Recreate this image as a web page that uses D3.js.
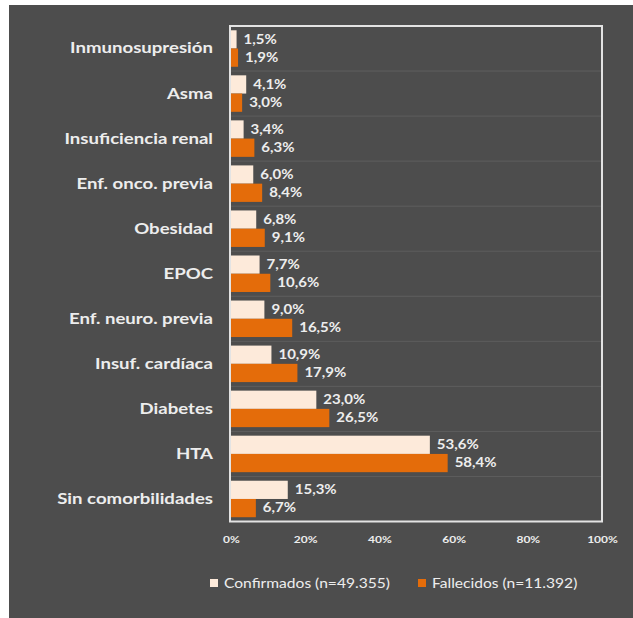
<!DOCTYPE html>
<html><head><meta charset="utf-8">
<script src="https://cdn.jsdelivr.net/npm/d3@7"></script>
<style>html,body{margin:0;padding:0;background:#fff;}svg{display:block;}</style>
</head><body>
<svg id="c" width="633" height="618"></svg>
<script>
const categories = ["Inmunosupresión","Asma","Insuficiencia renal","Enf. onco. previa","Obesidad","EPOC","Enf. neuro. previa","Insuf. cardíaca","Diabetes","HTA","Sin comorbilidades"];
const confirmados = [1.5,4.1,3.4,6.0,6.8,7.7,9.0,10.9,23.0,53.6,15.3];
const fallecidos = [1.9,3.0,6.3,8.4,9.1,10.6,16.5,17.9,26.5,58.4,6.7];
const seriesNames = ["Confirmados (n=49.355)","Fallecidos (n=11.392)"];
const tickValues = [0,20,40,60,80,100];

const colors = ["#FDEADA","#E46C0A"];
const textColor = "#EDEDED";
const SX = 1.2; // horizontal stretch of the text in the reference
const svg = d3.select("#c");
const font = "Lato, 'Open Sans', sans-serif";

svg.append("rect").attr("x",9).attr("y",5).attr("width",624).attr("height",613).attr("fill","#4D4D4D");

const L=231, R=602, T=26, B=521.5;
const x = d3.scaleLinear().domain([0,100]).range([L,R]);
const y = d3.scaleBand().domain(categories).range([T,B]).paddingInner(0.19).paddingOuter(0.095);
const inner = d3.scaleBand().domain([0,1]).range([0,y.bandwidth()]);

const g0 = svg.append("g");
categories.forEach((c,i)=>{
  if(i===0) return;
  const yy = T + (B-T)*i/categories.length;
  g0.append("line").attr("x1",L).attr("x2",R).attr("y1",yy).attr("y2",yy)
    .attr("stroke","#5E5E5E").attr("stroke-width",1);
});

function stretchText(sel, px, py){
  return sel.attr("transform",`translate(${px},${py}) scale(${SX},1)`);
}

const data = categories.map((c,i)=>({c, v:[confirmados[i],fallecidos[i]]}));
const gb = svg.append("g");
data.forEach(d=>{
  d.v.forEach((v,k)=>{
    const yy = y(d.c)+inner(k);
    gb.append("rect").attr("x",x(0)).attr("y",yy).attr("width",x(v)-x(0)).attr("height",inner.bandwidth())
      .attr("fill",colors[k]);
    stretchText(gb.append("text"), x(v)+7, yy+inner.bandwidth()/2).attr("dy","0.35em")
      .attr("fill",textColor).attr("font-family",font).attr("font-weight","bold").attr("font-size",12.5)
      .text(d3.format(".1f")(v).replace(".",",")+"%");
  });
});

svg.append("rect").attr("x",L-1).attr("y",T).attr("width",R-L+1).attr("height",B-T)
  .attr("fill","none").attr("stroke","#E3E3E3").attr("stroke-width",2);

// category labels
const yAxis = d3.axisLeft(y).tickSize(0).tickPadding(0);
const ya = svg.append("g").attr("transform",`translate(${L-18},0)`).call(yAxis);
ya.select(".domain").remove();
ya.selectAll("text").attr("x",0).attr("transform",`scale(${SX},1)`)
  .attr("fill",textColor).attr("font-family",font).attr("font-weight","bold").attr("font-size",15.5);

// x axis
const xAxis = d3.axisBottom(x).tickValues(tickValues).tickSize(0).tickPadding(0).tickFormat(d=>d+"%");
const xa = svg.append("g").attr("transform",`translate(0,${B+14})`).call(xAxis);
xa.select(".domain").remove();
xa.selectAll("text").attr("transform",`scale(${SX},1)`)
  .attr("fill",textColor).attr("font-family",font).attr("font-weight","bold").attr("font-size",10);

// legend
const legX = [210,418];
seriesNames.forEach((n,k)=>{
  svg.append("rect").attr("x",legX[k]).attr("y",579).attr("width",8).attr("height",8).attr("fill",colors[k]);
  stretchText(svg.append("text"), legX[k]+14, 583).attr("dy","0.35em")
    .attr("fill",textColor).attr("font-family",font).attr("font-size",13).text(n);
});
</script>
</body></html>
